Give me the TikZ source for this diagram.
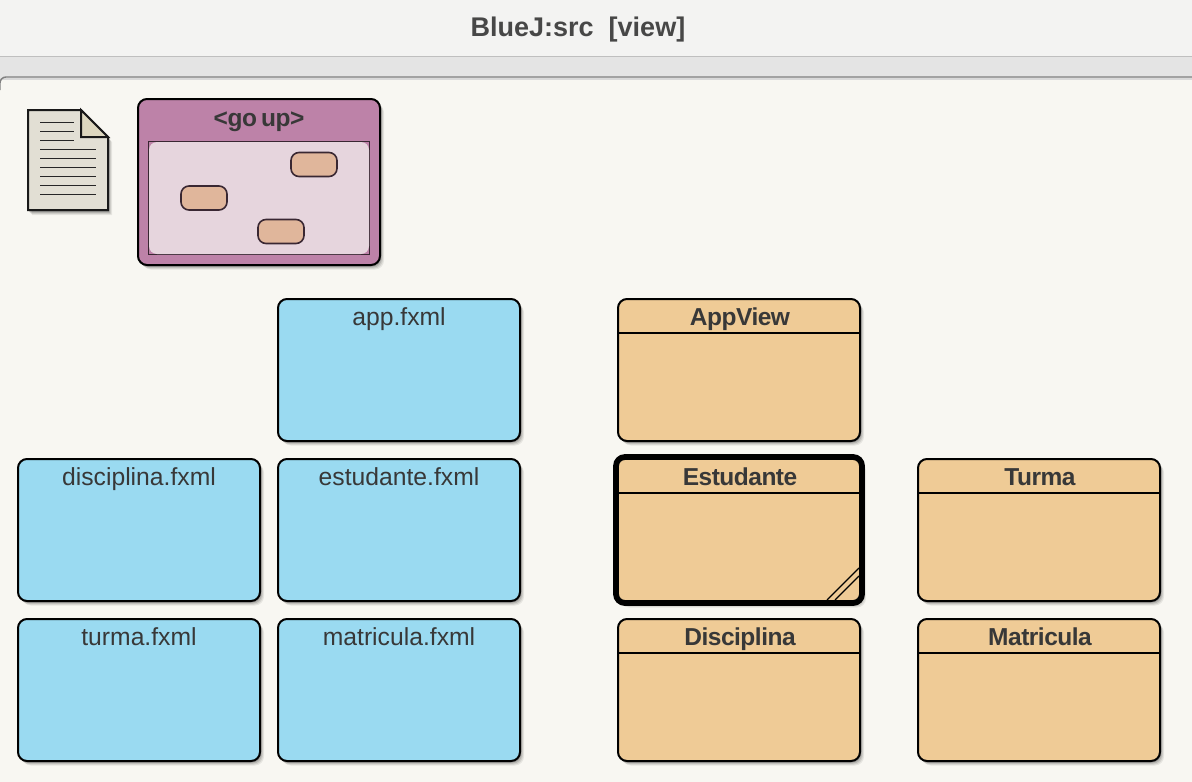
\documentclass[tikz,border=0pt]{standalone}
\usepackage{fontspec}
\setmainfont{Liberation Sans}
\definecolor{bgc}{HTML}{F8F7F2}
\definecolor{titlec}{HTML}{F3F3F2}
\definecolor{barc}{HTML}{E4E4E4}
\definecolor{txt}{HTML}{383838}
\definecolor{bluec}{HTML}{9ADAF1}
\definecolor{orangec}{HTML}{EFCB96}
\definecolor{purplec}{HTML}{BD82A8}
\definecolor{innerc}{HTML}{E6D5DD}
\definecolor{minic}{HTML}{E0B69B}
\definecolor{docc}{HTML}{E2DFD4}
\definecolor{foldc}{HTML}{DDD7BF}
\tikzset{
  x=1pt,y=-1pt,
  softshadow/.style={
    preaction={fill=black,fill opacity=.07,transform canvas={xshift=4pt,yshift=-4.5pt}},
    preaction={fill=black,fill opacity=.09,transform canvas={xshift=3pt,yshift=-3.5pt}},
    preaction={fill=black,fill opacity=.12,transform canvas={xshift=2pt,yshift=-2.5pt}},
    preaction={fill=black,fill opacity=.16,transform canvas={xshift=1pt,yshift=-1.5pt}}},
  cardbase/.style={draw=black,line width=2pt,rounded corners=9pt,minimum width=242pt,minimum height=142pt,inner sep=0pt,softshadow},
  fxmlbox/.style={cardbase,fill=bluec},
  classbox/.style={cardbase,fill=orangec},
  selectedbox/.style={classbox,line width=5.8pt,minimum width=246pt,minimum height=146pt},
  plainlabel/.style={text=txt,inner sep=0pt,font=\fontsize{24.7}{28}\selectfont},
  boldlabel/.style={text=txt,inner sep=0pt,font=\fontsize{24.5}{28}\selectfont\bfseries\addfontfeature{LetterSpace=-2}},
  divider/.style={draw=black,line width=1.6pt},
  minibox/.style={draw=black!70!purplec,line width=1.6pt,fill=minic,rounded corners=8pt,minimum width=46pt,minimum height=24pt,inner sep=0pt},
  docline/.style={draw=black!85,line width=.9pt},
}
\newcommand{\fxmlcard}[4]{%
  \node[fxmlbox] (#1) at (#2,#3) {};
  \node[plainlabel,anchor=base] (#1t) at (#2,#3-45) {#4};}
\newcommand{\classcard}[5][classbox]{%
  \node[#1] (#2) at (#3,#4) {};
  \node[boldlabel,anchor=base] (#2t) at (#3+1,#4-45) {#5};
  \draw[divider] (#3-120,#4-37) -- (#3+120,#4-37);}
\begin{document}
\begin{tikzpicture}
\useasboundingbox (0,0) rectangle (1192,782);
% window chrome
\fill[bgc] (0,0) rectangle (1192,782);
\fill[titlec] (0,0) rectangle (1192,57);
\fill[barc] (0,57) rectangle (1192,78);
\draw[black!25,line width=1pt] (0,56.5) -- (1192,56.5);
\fill[black!15] (0,78) rectangle (1192,80);
\fill[bgc,rounded corners=6pt] (0,80) rectangle (1210,800);
\draw[black!50,line width=1.4pt,rounded corners=6pt] (0,90) -- (0,77) -- (1210,77);
\node[text=black!72,inner sep=0pt,font=\fontsize{27}{30}\selectfont\bfseries] (title) at (578,30) {BlueJ:src\ \ [view]};
% readme document
\foreach \dd/\oo in {4/.07,3/.09,2/.12,1/.16}{
  \fill[black,fill opacity=\oo,shift={(\dd,\dd+1)}] (28,110) -- (81,110) -- (108,137) -- (108,210) -- (28,210) -- cycle;}
\draw[fill=docc,draw=black!90,line width=2pt] (28,110) -- (81,110) -- (108,137) -- (108,210) -- (28,210) -- cycle;
\draw[fill=foldc,draw=black!90,line width=2pt,line join=miter] (81,110) -- (108,137) -- (81,137) -- cycle;
\foreach \yy in {122.5,131.5,140.5}{\draw[docline] (40,\yy) -- (74,\yy);}
\foreach \yy in {149.5,158.5,167.5,176.5,185.5,194.5}{\draw[docline] (40,\yy) -- (96,\yy);}
% go up package
\node[draw=black,line width=2pt,fill=purplec,rounded corners=9pt,minimum width=242pt,minimum height=166pt,inner sep=0pt,softshadow] (goup) at (259,182) {};
\node[boldlabel,anchor=base,font=\fontsize{24.5}{28}\selectfont\bfseries\addfontfeature{LetterSpace=-2}] (goupt) at (259,126) {<go\,up>};
\node[draw=black!70!purplec,line width=1.2pt,fill=purplec,minimum width=221pt,minimum height=113pt,inner sep=0pt] (inner) at (259,198) {};
\fill[innerc,rounded corners=8pt] (149,142) rectangle (369,254);
\node[minibox] (m1) at (314,164.5) {};
\node[minibox] (m2) at (204,198) {};
\node[minibox] (m3) at (281,231.5) {};
% fxml cards
\fxmlcard{app}{399}{370}{app.fxml}
\fxmlcard{disc}{139}{530}{disciplina.fxml}
\fxmlcard{estu}{399}{530}{estudante.fxml}
\fxmlcard{turf}{139}{690}{turma.fxml}
\fxmlcard{matf}{399}{690}{matricula.fxml}
% class cards
\classcard{appview}{739}{370}{AppView}
\classcard[selectedbox]{estudante}{739}{530}{Estudante}
\classcard{turma}{1039}{530}{Turma}
\classcard{disciplina}{739}{690}{Disciplina}
\classcard{matricula}{1039}{690}{Matricula}
\draw[black,line width=1.3pt] (827,600) -- (859,568);
\draw[black,line width=1.3pt] (835,600) -- (859,576);
\end{tikzpicture}
\end{document}
